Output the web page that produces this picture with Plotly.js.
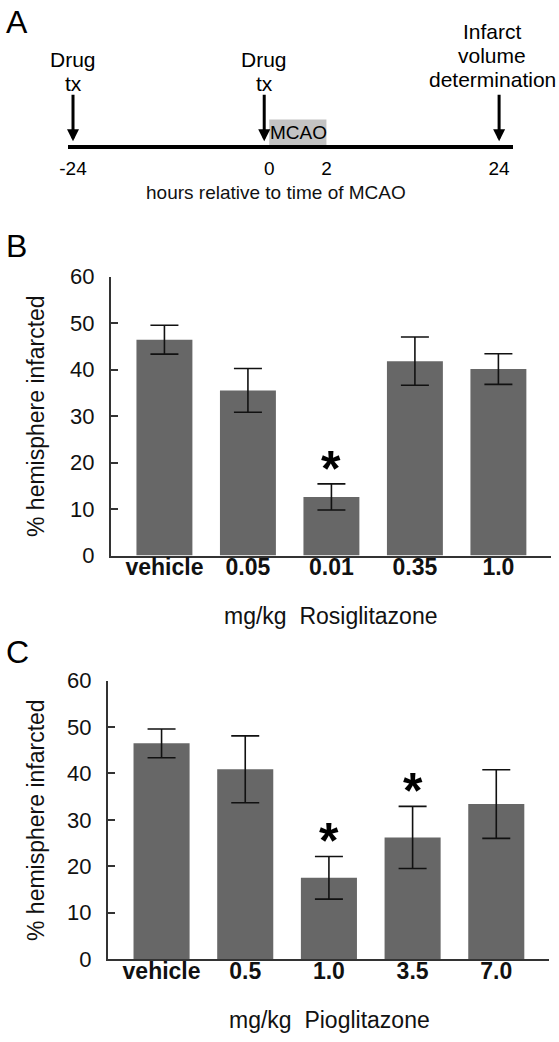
<!DOCTYPE html>
<html><head><meta charset="utf-8">
<script src="https://cdn.plot.ly/plotly-3.0.1.min.js"></script>
<style>html,body{margin:0;padding:0;background:#fff}#chart{width:559px;height:1042px}</style>
</head><body><div id="chart"></div>
<script>
// ---------- Panel A: experimental timeline ----------
const timeTickHours = [-24, 0, 2, 24];
const timeTickLabels = ['-24', '0', '2', '24'];
const eventHours = [-24, 0, 24];
const eventLabels = [['Drug', 'tx'], ['Drug', 'tx'], ['Infarct', 'volume', 'determination']];
const mcaoStartHour = 0;
const mcaoEndHour = 2;
const mcaoLabel = 'MCAO';
const timelineTitle = 'hours relative to time of MCAO';

// ---------- Panel B: Rosiglitazone ----------
const rosiCategories = ['vehicle', '0.05', '0.01', '0.35', '1.0'];
const rosiMeans = [46.4, 35.5, 12.6, 41.8, 40.1];
const rosiSEM = [3.1, 4.7, 2.8, 5.2, 3.3];
const rosiSignificant = [false, false, true, false, false];
const rosiTitle = 'mg/kg\u00a0\u00a0Rosiglitazone';

// ---------- Panel C: Pioglitazone ----------
const pioCategories = ['vehicle', '0.5', '1.0', '3.5', '7.0'];
const pioMeans = [46.5, 40.9, 17.5, 26.2, 33.4];
const pioSEM = [3.1, 7.2, 4.6, 6.7, 7.4];
const pioSignificant = [false, false, true, true, false];
const pioTitle = 'mg/kg\u00a0\u00a0Pioglitazone';

const yTitle = '% hemisphere infarcted';

// Schematic (non-linear) timeline scale: the 0–2 h occlusion window is drawn stretched.
function schem(h) {
  if (h <= 0) return h;
  if (h <= 2) return h * 3.5;
  return 7 + (h - 2) * 0.96;
}

const W = 559, H = 1042;
const px = v => v / W;
const py = v => 1 - v / H;

const FONT = 'Liberation Sans, Arial, Helvetica, sans-serif';
const BAR = '#676767';
const AX = '#333333';

function barTrace(cats, means, sem, xa, ya) {
  return {
    type: 'bar', x: cats, y: means, xaxis: xa, yaxis: ya,
    marker: {color: BAR, line: {width: 0}},
    error_y: {type: 'data', array: sem, visible: true, color: '#111', thickness: 1.6, width: 14},
    hoverinfo: 'skip', showlegend: false
  };
}

const traces = [
  barTrace(rosiCategories, rosiMeans, rosiSEM, 'x', 'y'),
  barTrace(pioCategories, pioMeans, pioSEM, 'x2', 'y2'),
  // invisible trace to activate the timeline axes
  {type: 'scatter', x: timeTickHours.map(schem), y: timeTickHours.map(() => 0), xaxis: 'x3', yaxis: 'y3',
   mode: 'markers', marker: {opacity: 0}, hoverinfo: 'skip', showlegend: false}
];

function yAxis(domain, anchor) {
  return {
    domain: domain, anchor: anchor, range: [0, 60], dtick: 10, tick0: 0,
    showline: true, linecolor: AX, linewidth: 2, ticks: 'inside', ticklen: 7, tickwidth: 2, tickcolor: AX,
    showgrid: false, zeroline: false, tickfont: {family: FONT, size: 22, color: '#111'},
    ticklabelstandoff: 10
  };
}
function xAxis(domain, anchor, cats) {
  return {
    domain: domain, anchor: anchor, type: 'category', categoryarray: cats, range: [-0.64, 4.63],
    showline: true, linecolor: AX, linewidth: 2, ticks: '', ticklen: 0, showgrid: false, zeroline: false,
    ticklabelstandoff: -10,
    tickfont: {family: FONT, size: 23, color: '#111', weight: 700}
  };
}

const annotations = [];
// panel letters
[['A', 22], ['B', 246], ['C', 652]].forEach(([t, y]) => annotations.push({
  text: t, xref: 'paper', yref: 'paper', x: px(4), y: py(y), xanchor: 'left', yanchor: 'middle',
  showarrow: false, font: {family: FONT, size: 32, color: '#000'}
}));

// axis titles
function axisTitle(text, x, y, angle, size) {
  annotations.push({
    text: text, xref: 'paper', yref: 'paper', x: px(x), y: py(y), xanchor: 'center', yanchor: 'middle',
    textangle: angle, showarrow: false, font: {family: FONT, size: size, color: '#111'}
  });
}
axisTitle(timelineTitle, 275.5, 192, 0, 19);
axisTitle(rosiTitle, 331, 616, 0, 23);
axisTitle(pioTitle, 329, 1020, 0, 23);
axisTitle(yTitle, 36, 416, -90, 23);
axisTitle(yTitle, 36, 820, -90, 23);

// timeline event arrows and labels
eventHours.forEach((h, i) => {
  const arrowShift = (h === 0) ? -5 : 0;          // pre-MCAO dose drawn just left of the occlusion box
  annotations.push({
    text: '', xref: 'x3', yref: 'y3', x: schem(h), y: 0, showarrow: true, xshift: arrowShift,
    ax: 0, ay: -52, arrowhead: 2, arrowsize: 0.8, arrowwidth: 3, arrowcolor: '#000', standoff: 4
  });
  const lines = eventLabels[i];
  const last = (i === eventHours.length - 1);
  const shiftX = last ? -7 : arrowShift;
  const base = last ? 66 : 62;
  lines.forEach((ln, j) => {
    const fromBottom = lines.length - 1 - j;
    annotations.push({
      text: ln, xref: 'x3', yref: 'y3', x: schem(h), y: 0, xanchor: 'center', yanchor: 'middle',
      yshift: base + fromBottom * 24, xshift: shiftX, showarrow: false,
      font: {family: FONT, size: 21, color: '#000'}
    });
  });
});
// MCAO label
annotations.push({
  text: mcaoLabel, xref: 'x3', yref: 'y3', x: schem((mcaoStartHour + mcaoEndHour) / 2), y: 0,
  xanchor: 'center', yanchor: 'middle', yshift: 13, xshift: 1, showarrow: false,
  font: {family: FONT, size: 19, color: '#000'}
});

// significance asterisks (x given as category index)
function stars(cats, means, sem, sig, xa, ya) {
  cats.forEach((c, i) => {
    if (!sig[i]) return;
    annotations.push({
      text: '*', xref: xa, yref: ya, x: i, y: means[i] + sem[i], xanchor: 'center', yanchor: 'bottom',
      yshift: -15, showarrow: false, font: {family: FONT, size: 50, color: '#000', weight: 700}
    });
  });
}
stars(rosiCategories, rosiMeans, rosiSEM, rosiSignificant, 'x', 'y');
stars(pioCategories, pioMeans, pioSEM, pioSignificant, 'x2', 'y2');

const shapes = [{
  type: 'rect', xref: 'x3', yref: 'y3', x0: schem(mcaoStartHour), x1: schem(mcaoEndHour), y0: 0, y1: 0.19,
  fillcolor: '#c3c3c3', line: {width: 0}, layer: 'below'
}];

const layout = {
  width: W, height: H, margin: {l: 0, r: 0, t: 0, b: 0}, paper_bgcolor: '#fff', plot_bgcolor: 'rgba(0,0,0,0)',
  showlegend: false, bargap: 0.33,
  font: {family: FONT, color: '#000'},
  xaxis: xAxis([px(111), px(551)], 'y', rosiCategories),
  yaxis: yAxis([py(555.5), py(276.5)], 'x'),
  xaxis2: xAxis([px(108), px(549)], 'y2', pioCategories),
  yaxis2: yAxis([py(959), py(680.7)], 'x2'),
  xaxis3: {
    domain: [px(67.7), px(513)], anchor: 'y3', range: [schem(-24) - 0.65, schem(24) + 1.7],
    showline: true, linecolor: '#000', linewidth: 4, ticks: '', ticklen: 0, showgrid: false, zeroline: false,
    tickvals: timeTickHours.map(schem), ticktext: timeTickLabels, ticklabelstandoff: 3,
    tickfont: {family: FONT, size: 19, color: '#000'}
  },
  yaxis3: {domain: [py(145.3), py(10)], anchor: 'x3', range: [0, 1], visible: false},
  annotations: annotations, shapes: shapes
};

Plotly.newPlot('chart', traces, layout, {staticPlot: true, displayModeBar: false});
</script>
</body></html>
